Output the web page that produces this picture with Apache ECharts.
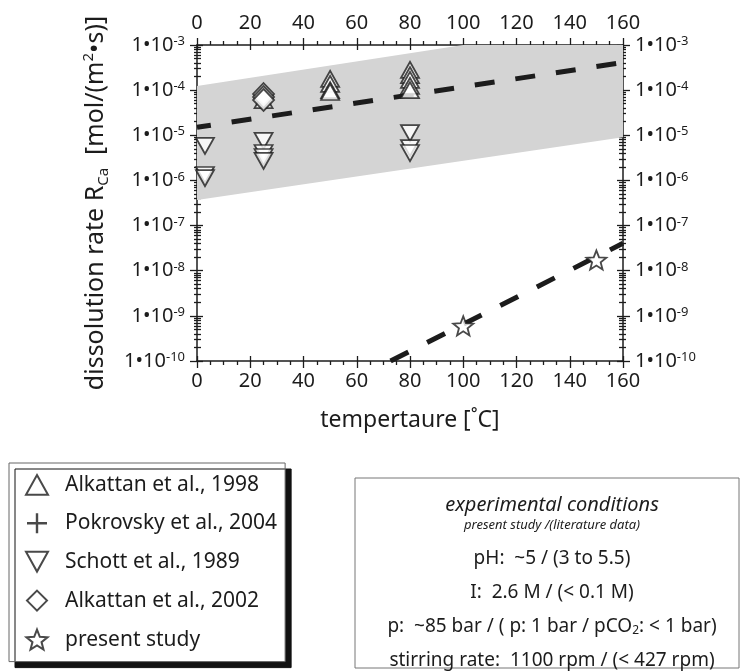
<!DOCTYPE html>
<html>
<head>
<meta charset="utf-8">
<script src="https://cdn.jsdelivr.net/npm/echarts@6/dist/echarts.min.js"></script>
<style>
  html, body { margin: 0; padding: 0; background: #fff; }
  #chart { width: 749px; height: 671px; }
</style>
</head>
<body>
<div id="chart"></div>
<script>
// Temperature ticks (°C) and rate decades (log10 of mol/(m²·s))
const xTickValues = [0, 20, 40, 60, 80, 100, 120, 140, 160];
const yDecades = [-10, -9, -8, -7, -6, -5, -4, -3];

// Measured Ca release rates: [temperature °C, rate mol/(m²·s)]
const alkattan1998 = [
  [25, 6.0e-5],
  [50, 1.77e-4], [50, 1.37e-4], [50, 1.0e-4], [50, 9.1e-5],
  [80, 2.8e-4], [80, 2.16e-4], [80, 1.68e-4], [80, 1.24e-4], [80, 1.0e-4]
];
const pokrovsky2004 = [];
const schott1989 = [
  [3, 5.8e-6], [3, 1.32e-6], [3, 1.13e-6],
  [25, 7.5e-6], [25, 4.05e-6], [25, 3.3e-6], [25, 2.7e-6],
  [80, 1.12e-5], [80, 5.2e-6], [80, 4.05e-6]
];
const alkattan2002 = [[25, 8.2e-5], [25, 7.05e-5], [25, 6.05e-5]];
const presentStudy = [[100, 6.0e-10], [150, 1.73e-8]];

// Trend lines and the spread of the literature data
const literatureFit = [[0, 1.5e-5], [160, 4.1e-4]];
const presentFit = [[72.7, 1e-10], [160, 4.05e-8]];
const bandUpper = [[0, 1.24e-4], [100, 1e-3], [160, 1e-3]];
const bandLower = [[0, 3.7e-7], [160, 9e-6]];

const legendNames = ['Alkattan et al., 1998', 'Pokrovsky et al., 2004', 'Schott et al., 1989', 'Alkattan et al., 2002', 'present study'];

const FONT = 'Noto Sans';
const INK = '#1c1c1c';

const SYM = {
  up: 'path://M5,0 L10,9 L0,9 Z',
  down: 'path://M0,0 L10,0 L5,9 Z',
  diamond: 'path://M5,0 L10,5 L5,10 L0,5 Z',
  plus: 'path://M4.4,0 H5.6 V4.4 H10 V5.6 H5.6 V10 H4.4 V5.6 H0 V4.4 H4.4 Z',
  star: 'path://M10,0 L12.53,6.52 L19.51,6.91 L14.09,11.33 L15.88,18.09 L10,14.3 L4.12,18.09 L5.91,11.33 L0.49,6.91 L7.47,6.52 Z'
};

const toLog = p => [p[0], Math.log10(p[1])];

// logarithmic minor ticks 2..9 within each decade
const yMinor = [];
for (let i = 0; i < yDecades.length - 1; i++) {
  for (let m = 2; m <= 9; m++) yMinor.push(yDecades[i] + Math.log10(m));
}

const tickLine = { color: INK, width: 1.3 };

function xAxisDef(position, extra) {
  return Object.assign({
    type: 'value', position, min: xTickValues[0], max: xTickValues[xTickValues.length - 1], interval: 20,
    splitLine: { show: false },
    axisLine: { show: false, onZero: false },
    axisLabel: { show: false },
    axisTick: { show: false }
  }, extra);
}
function yAxisDef(position, extra) {
  return Object.assign({
    type: 'value', position, min: yDecades[0], max: yDecades[yDecades.length - 1], interval: 1,
    splitLine: { show: false },
    axisLine: { show: false, onZero: false },
    axisLabel: { show: false },
    axisTick: { show: false }
  }, extra);
}

const xLabel = {
  show: true, fontFamily: FONT, fontSize: 20, color: INK,
  customValues: xTickValues
};
const yLabelRich = { s: { fontFamily: FONT, fontSize: 13, verticalAlign: 'top', color: INK } };
const yLabelFmt = v => '1•10{s|' + Math.round(v) + '}';

const xAxes = [
  xAxisDef('bottom', {
    axisLine: { show: true, onZero: false, lineStyle: { color: INK, width: 1.5 } },
    axisTick: { show: true, inside: false, length: 7, lineStyle: tickLine },
    minorTick: { show: true, splitNumber: 4, length: 4, lineStyle: tickLine },
    axisLabel: Object.assign({ margin: 10 }, xLabel),
    name: 'tempertaure [˚C]', nameLocation: 'middle', nameGap: 48,
    nameTextStyle: { fontFamily: FONT, fontSize: 23, color: INK }
  }),
  xAxisDef('bottom', { axisTick: { show: true, inside: true, length: 5, lineStyle: tickLine } }),
  xAxisDef('top', {
    axisLine: { show: true, onZero: false, lineStyle: { color: INK, width: 1.5 } },
    axisTick: { show: true, inside: false, length: 7, lineStyle: tickLine },
    minorTick: { show: true, splitNumber: 4, length: 4, lineStyle: tickLine },
    axisLabel: Object.assign({ margin: 12 }, xLabel)
  }),
  xAxisDef('top', { axisTick: { show: true, inside: true, length: 5, lineStyle: tickLine } })
];

function ySide(position) {
  return [
    yAxisDef(position, {
      axisLine: { show: true, onZero: false, lineStyle: { color: INK, width: 1.5 } },
      axisTick: { show: true, inside: false, length: 7, lineStyle: tickLine },
      axisLabel: {
        show: true, fontFamily: FONT, fontSize: 20, color: INK, margin: 12,
        formatter: yLabelFmt, rich: yLabelRich
      }
    }),
    yAxisDef(position, { axisTick: { show: true, inside: true, length: 6, lineStyle: tickLine } }),
    yAxisDef(position, { axisTick: { show: true, inside: true, length: 4, lineStyle: tickLine, customValues: yMinor } }),
    yAxisDef(position, { axisTick: { show: true, inside: false, length: 3, lineStyle: tickLine, customValues: yMinor } })
  ];
}
const yAxes = ySide('left').concat(ySide('right'));
Object.assign(yAxes[0], {
  name: 'dissolution rate R{sub|Ca}  [mol/(m{sup|2}•s)]',
  nameLocation: 'middle', nameGap: 86, nameRotate: 90,
  nameTextStyle: {
    fontFamily: FONT, fontSize: 25, color: INK, lineHeight: 30,
    rich: {
      sub: { fontFamily: FONT, fontSize: 15, verticalAlign: 'bottom', color: INK },
      sup: { fontFamily: FONT, fontSize: 15, verticalAlign: 'top', color: INK }
    }
  }
});

const markerStyle = { color: '#fff', borderColor: INK, borderWidth: 1.8 };

const option = {
  animation: false,
  backgroundColor: '#fff',
  grid: { left: 197, right: 126, top: 45, bottom: 310, containLabel: false, outerBoundsMode: 'none' },
  xAxis: xAxes,
  yAxis: yAxes,
  legend: {
    orient: 'vertical', left: 9, top: 463,
    itemWidth: 22, itemHeight: 20, itemGap: 17,
    padding: [11, 8, 11, 16],
    backgroundColor: '#fff', borderColor: '#666', borderWidth: 1,
    shadowColor: '#111', shadowOffsetX: 6, shadowOffsetY: 6, shadowBlur: 0,
    itemStyle: { borderWidth: 2 },
    textStyle: { fontFamily: FONT, fontSize: 21, lineHeight: 20, color: INK, padding: [0, 0, 0, 12] },
    data: [
      { name: legendNames[0], icon: SYM.up },
      { name: legendNames[1], icon: SYM.plus, itemStyle: { borderWidth: 0 } },
      { name: legendNames[2], icon: SYM.down },
      { name: legendNames[3], icon: SYM.diamond },
      { name: legendNames[4], icon: SYM.star }
    ]
  },
  graphic: [
    { type: 'rect', z: 0, shape: { x: 355, y: 478, width: 384, height: 190 },
      style: { fill: '#fff', stroke: '#777', lineWidth: 1 } },
    { type: 'text', x: 552, y: 505, style: { text: 'experimental conditions', fontFamily: FONT, fontStyle: 'italic', fontSize: 20, fill: INK, align: 'center', verticalAlign: 'middle' } },
    { type: 'text', x: 552, y: 525, style: { text: 'present study /(literature data)', fontFamily: FONT, fontStyle: 'italic', fontSize: 13, fill: INK, align: 'center', verticalAlign: 'middle' } },
    { type: 'text', x: 552, y: 559, style: { text: 'pH:  ~5 / (3 to 5.5)', fontFamily: FONT, fontSize: 19, fill: INK, align: 'center', verticalAlign: 'middle' } },
    { type: 'text', x: 552, y: 593, style: { text: 'I:  2.6 M / (< 0.1 M)', fontFamily: FONT, fontSize: 19, fill: INK, align: 'center', verticalAlign: 'middle' } },
    { type: 'text', x: 552, y: 627, style: {
        text: 'p:  ~85 bar / ( p: 1 bar / pCO{sub|2}: < 1 bar)', fontFamily: FONT, fontSize: 19, fill: INK, align: 'center', verticalAlign: 'middle',
        rich: { sub: { fontFamily: FONT, fontSize: 12, verticalAlign: 'bottom', fill: INK } } } },
    { type: 'text', x: 552, y: 661, style: { text: 'stirring rate:  1100 rpm / (< 427 rpm)', fontFamily: FONT, fontSize: 19, fill: INK, align: 'center', verticalAlign: 'middle' } }
  ],
  series: [
    {
      type: 'custom', name: 'literature range', xAxisIndex: 0, yAxisIndex: 0, z: 1, silent: true,
      data: [[0, yDecades[0]]],
      renderItem: (params, api) => {
        const pts = bandUpper.concat(bandLower.slice().reverse()).map(p => api.coord(toLog(p)));
        return { type: 'polygon', shape: { points: pts }, style: { fill: '#d4d4d4' } };
      }
    },
    {
      type: 'line', name: 'literature fit', data: literatureFit.map(toLog), symbol: 'none', silent: true, z: 2,
      lineStyle: { color: INK, width: 5, type: [20, 21], dashOffset: 6, cap: 'butt' }
    },
    {
      type: 'line', name: 'present fit', data: presentFit.map(toLog), symbol: 'none', silent: true, z: 2,
      lineStyle: { color: INK, width: 5, type: [20, 21], cap: 'butt' }
    },
    { type: 'scatter', name: legendNames[0], data: alkattan1998.map(toLog), symbol: SYM.up, symbolSize: [18, 16], itemStyle: markerStyle, z: 3 },
    { type: 'scatter', name: legendNames[1], data: pokrovsky2004.map(toLog), symbol: SYM.plus, symbolSize: [18, 18], itemStyle: { color: INK, borderWidth: 0 }, z: 3 },
    { type: 'scatter', name: legendNames[2], data: schott1989.map(toLog), symbol: SYM.down, symbolSize: [18, 16], itemStyle: markerStyle, z: 3 },
    { type: 'scatter', name: legendNames[3], data: alkattan2002.map(toLog), symbol: SYM.diamond, symbolSize: [21, 22], itemStyle: markerStyle, z: 3 },
    { type: 'scatter', name: legendNames[4], data: presentStudy.map(toLog), symbol: SYM.star, symbolSize: [20, 19], itemStyle: markerStyle, z: 3 }
  ]
};

const chart = echarts.init(document.getElementById('chart'), null, { renderer: 'canvas' });
chart.setOption(option);
</script>
</body>
</html>
